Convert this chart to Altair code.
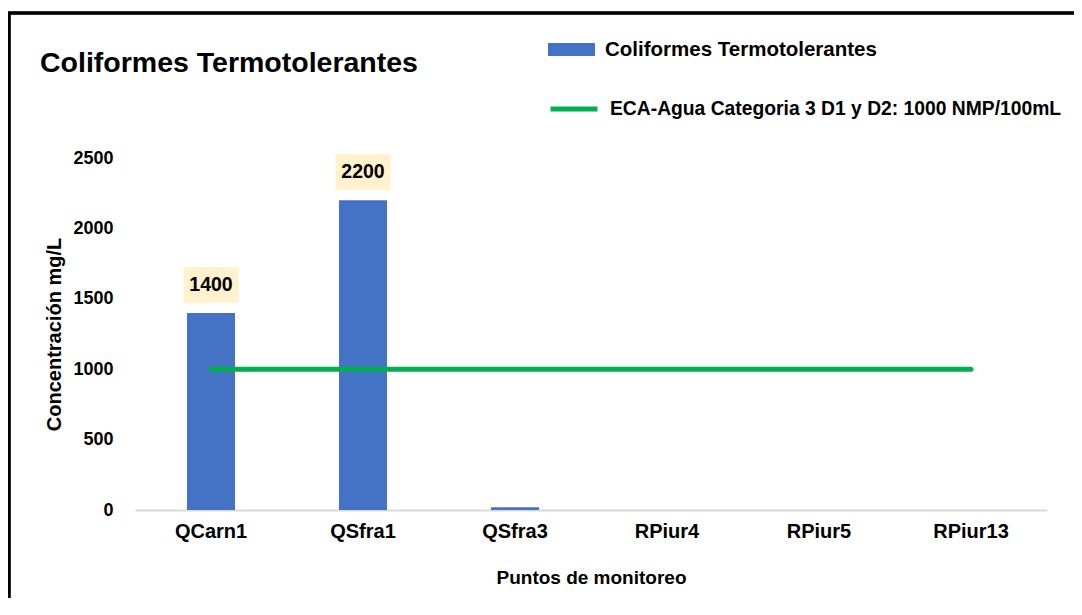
import altair as alt
import pandas as pd

# ---- data ----
puntos = ["QCarn1", "QSfra1", "QSfra3", "RPiur4", "RPiur5", "RPiur13"]
coliformes = [1400, 2200, 20, 0, 0, 0]
eca_limite = [1000, 1000, 1000, 1000, 1000, 1000]
serie_barras = "Coliformes Termotolerantes"
serie_linea = "ECA-Agua Categoria 3 D1 y D2: 1000 NMP/100mL"
titulo = "Coliformes Termotolerantes"
y_ticks = [0, 500, 1000, 1500, 2000, 2500]

df = pd.DataFrame({
    "punto": puntos,
    "valor": coliformes,
    "eca": eca_limite,
    "sb": [serie_barras] * len(puntos),
    "sl": [serie_linea] * len(puntos),
})

FONT = "Liberation Sans, Arial"

W, H = 912, 352

x = alt.X(
    "punto:N",
    sort=puntos,
    scale=alt.Scale(paddingInner=0.684, paddingOuter=0.342),
    axis=alt.Axis(
        title="Puntos de monitoreo",
        labelAngle=0,
        ticks=False,
        domainColor="#D9D9D9",
        domainWidth=2,
        labelFont=FONT,
        labelFontSize=20,
        labelFontWeight="bold",
        labelColor="black",
        labelPadding=11,
        titleFont=FONT,
        titleFontSize=19,
        titleFontWeight="bold",
        titleColor="black",
        titlePadding=27,
    ),
)
y_scale = alt.Scale(domain=[0, 2500], nice=False)
y = alt.Y(
    "valor:Q",
    scale=y_scale,
    axis=alt.Axis(
        title="Concentración mg/L",
        values=y_ticks,
        format="d",
        domain=False,
        ticks=False,
        grid=False,
        labelFont=FONT,
        labelFontSize=18,
        labelFontWeight="bold",
        labelColor="black",
        labelPadding=22,
        titleFont=FONT,
        titleFontSize=20,
        titleFontWeight="bold",
        titleColor="black",
        titlePadding=8,
    ),
)

base = alt.Chart(df)

bars = base.mark_bar(color="#4472C4").encode(
    x=x,
    y=y,
    color=alt.Color(
        "sb:N",
        scale=alt.Scale(range=["#4472C4"]),
        legend=alt.Legend(
            title=None,
            orient="none",
            legendX=413,
            legendY=-132,
            symbolType="M-1,-0.28L1,-0.28L1,0.28L-1,0.28Z",
            symbolSize=2209,
            symbolStrokeWidth=0,
            symbolOpacity=1,
            labelFont=FONT,
            labelFontSize=20.5,
            labelFontWeight="bold",
            labelColor="black",
            labelLimit=1000,
            labelOffset=10,
        ),
    ),
)

line = base.mark_line(strokeWidth=5, strokeCap="round").encode(
    x=alt.X("punto:N", sort=puntos),
    y=alt.Y("eca:Q", scale=y_scale),
    stroke=alt.Stroke(
        "sl:N",
        scale=alt.Scale(range=["#00B050"]),
        legend=alt.Legend(
            title=None,
            orient="none",
            legendX=413,
            legendY=-75,
            symbolType="stroke",
            symbolSize=2209,
            symbolStrokeWidth=5,
            labelFont=FONT,
            labelFontSize=19.3,
            labelFontWeight="bold",
            labelColor="black",
            labelLimit=1000,
            labelOffset=10,
        ),
    ),
)

lab_df = base.transform_filter(alt.datum.valor > 100)

boxes = lab_df.mark_point(
    shape="M-1,-0.65L1,-0.65L1,0.65L-1,0.65Z",
    filled=True,
    size=3025,
    color="#FFF2CC",
    opacity=1,
    yOffset=-28,
).encode(x=alt.X("punto:N", sort=puntos), y=alt.Y("valor:Q", scale=y_scale))

texts = lab_df.mark_text(
    font=FONT,
    fontSize=19.5,
    fontWeight="bold",
    color="black",
    dy=-28,
    baseline="middle",
).encode(x=alt.X("punto:N", sort=puntos), y=alt.Y("valor:Q", scale=y_scale), text="valor:Q")

frame = base.mark_rect(
    fill=None, stroke="black", strokeWidth=2.5, clip=False
).encode(
    x=alt.value(-126),
    x2=alt.value(W + 200),
    y=alt.value(-145),
    y2=alt.value(H + 300),
)

title_mark = alt.Chart(pd.DataFrame({"t": [titulo]})).mark_text(
    font=FONT,
    fontSize=28.5,
    fontWeight="bold",
    color="black",
    align="left",
    baseline="middle",
).encode(x=alt.value(-95), y=alt.value(-95), text="t:N")

chart = (
    alt.layer(frame, bars, line, boxes, texts, title_mark)
    .resolve_scale(color="independent", stroke="independent")
    .properties(
        width=W,
        height=H,
        padding={"left": 127, "top": 150, "right": 27, "bottom": 88},
        autosize=alt.AutoSizeParams(type="none"),
    )
    .configure(background="white")
    .configure_view(stroke=None)
)

chart.save("out.html", embed_options={"renderer": "svg", "actions": False})
